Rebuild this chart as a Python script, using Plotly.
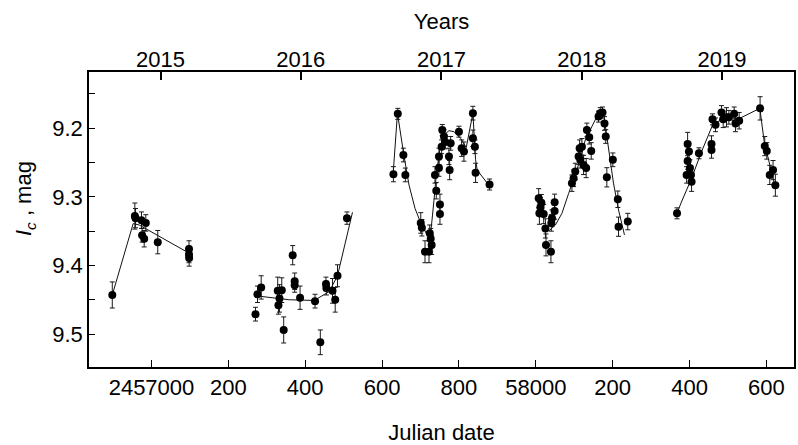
import plotly.graph_objects as go

# ---------------- data ----------------
jd_2015 = [2456898.0, 2456956.7, 2456958.5, 2456974.0, 2456985.2, 2456975.6, 2456981.0, 2457016.3, 2457097.6, 2457097.6, 2457098.0]
mag_2015 = [9.443, 9.328, 9.331, 9.334, 9.338, 9.356, 9.361, 9.366, 9.376, 9.384, 9.389]
err_2015 = [0.019, 0.019, 0.014, 0.012, 0.012, 0.010, 0.012, 0.017, 0.012, 0.012, 0.012]

jd_2016 = [2457270.6, 2457275.8, 2457285.4, 2457328.5, 2457333.0, 2457330.3, 2457339.0, 2457344.0, 2457367.4, 2457372.6,
           2457372.6, 2457386.6, 2457425.5, 2457439.3, 2457454.0, 2457455.0, 2457471.0, 2457478.0, 2457484.0, 2457508.6]
mag_2016 = [9.471, 9.442, 9.432, 9.437, 9.448, 9.458, 9.436, 9.494, 9.385, 9.423,
            9.429, 9.447, 9.452, 9.512, 9.427, 9.433, 9.437, 9.450, 9.415, 9.331]
err_2016 = [0.010, 0.012, 0.017, 0.020, 0.020, 0.013, 0.018, 0.019, 0.014, 0.012,
            0.010, 0.017, 0.010, 0.018, 0.010, 0.010, 0.018, 0.018, 0.016, 0.009]

jd_2017 = [2457629.5, 2457640.9, 2457655.4, 2457660.6, 2457700.6, 2457703.5, 2457711.7, 2457722.1, 2457726.5, 2457729.0,
           2457724.0, 2457737.6, 2457741.0, 2457748.0, 2457748.0, 2457750.6, 2457750.6, 2457755.0, 2457756.6, 2457761.0,
           2457764.0, 2457774.0, 2457775.8, 2457778.4, 2457800.0, 2457807.0, 2457813.0, 2457836.3, 2457836.3, 2457841.5,
           2457843.3, 2457879.6]
mag_2017 = [9.267, 9.179, 9.239, 9.268, 9.338, 9.345, 9.380, 9.380, 9.361, 9.370,
            9.353, 9.268, 9.291, 9.241, 9.258, 9.311, 9.325, 9.227, 9.2025, 9.212,
            9.220, 9.241, 9.261, 9.222, 9.205, 9.229, 9.234, 9.178, 9.2146, 9.227,
            9.265, 9.282]
err_2017 = [0.011, 0.008, 0.010, 0.010, 0.015, 0.012, 0.016, 0.016, 0.015, 0.014,
            0.012, 0.012, 0.012, 0.012, 0.012, 0.015, 0.015, 0.010, 0.008, 0.010,
            0.010, 0.012, 0.014, 0.010, 0.008, 0.012, 0.014, 0.010, 0.012, 0.010,
            0.014, 0.008]

jd_2018 = [2458007.5, 2458009.3, 2458012.0, 2458014.5, 2458020.5, 2458025.0, 2458026.5, 2458039.4, 2458040.4, 2458042.0,
           2458049.0, 2458049.0, 2458094.0, 2458098.3, 2458102.7, 2458111.3, 2458114.0, 2458120.0, 2458115.7, 2458124.3,
           2458131.0, 2458132.9, 2458139.0, 2458144.2, 2458163.2, 2458167.6, 2458173.6, 2458178.8, 2458182.0, 2458184.8,
           2458200.4, 2458213.4, 2458215.2, 2458239.3]
mag_2018 = [9.302, 9.324, 9.315, 9.3085, 9.325, 9.346, 9.370, 9.380, 9.338, 9.331,
            9.3205, 9.308, 9.280, 9.273, 9.263, 9.241, 9.229, 9.227, 9.246, 9.2535,
            9.258, 9.2025, 9.213, 9.233, 9.183, 9.178, 9.177, 9.193, 9.212, 9.2715,
            9.246, 9.3035, 9.3435, 9.336]
err_2018 = [0.014, 0.016, 0.014, 0.012, 0.014, 0.014, 0.016, 0.016, 0.012, 0.012,
            0.012, 0.012, 0.012, 0.012, 0.012, 0.012, 0.012, 0.012, 0.012, 0.014,
            0.014, 0.010, 0.010, 0.012, 0.008, 0.008, 0.008, 0.010, 0.010, 0.014,
            0.010, 0.012, 0.014, 0.012]

jd_2019 = [2458367.4, 2458392.4, 2458395.0, 2458395.0, 2458398.5, 2458401.1, 2458403.7, 2458405.3, 2458424.5, 2458457.2,
           2458457.2, 2458459.8, 2458467.6, 2458483.2, 2458487.6, 2458496.1, 2458502.3, 2458516.1, 2458519.5, 2458529.1,
           2458583.6, 2458595.7, 2458601.0, 2458608.7, 2458617.3, 2458623.3]
mag_2019 = [9.324, 9.268, 9.223, 9.2477, 9.234, 9.258, 9.268, 9.278, 9.2365, 9.223,
            9.2316, 9.187, 9.195, 9.177, 9.187, 9.184, 9.184, 9.179, 9.193, 9.189,
            9.171, 9.226, 9.233, 9.268, 9.261, 9.283]
err_2019 = [0.008, 0.012, 0.017, 0.012, 0.012, 0.012, 0.012, 0.014, 0.008, 0.012,
            0.012, 0.008, 0.010, 0.010, 0.012, 0.014, 0.010, 0.010, 0.012, 0.012,
            0.017, 0.014, 0.012, 0.014, 0.014, 0.016]

# fitted curves (one per season)
fit_jd_2015 = [2456898.0, 2456952.3, 2456968.0, 2457097.6]
fit_mag_2015 = [9.443, 9.339, 9.341, 9.382]
fit_jd_2016 = [2457275.8, 2457358.8, 2457423.7, 2457462.6, 2457484.0, 2457523.0]
fit_mag_2016 = [9.4445, 9.450, 9.451, 9.438, 9.415, 9.3225]
fit_jd_2017 = [2457629.5, 2457640.0, 2457657.2, 2457670.2, 2457685.8, 2457700.6, 2457717.7, 2457726.5, 2457735.0, 2457741.0,
               2457749.8, 2457761.0, 2457774.0, 2457787.0, 2457804.4, 2457819.0, 2457836.3, 2457843.3, 2457847.5, 2457860.5,
               2457877.8]
fit_mag_2017 = [9.261, 9.178, 9.241, 9.283, 9.317, 9.338, 9.356, 9.353, 9.305, 9.268,
                9.232, 9.210, 9.2035, 9.205, 9.2146, 9.228, 9.178, 9.246, 9.261, 9.2705,
                9.283]
fit_jd_2018 = [2458023.0, 2458035.3, 2458051.0, 2458068.0, 2458085.4, 2458098.3, 2458115.7, 2458128.7, 2458141.7, 2458156.2,
               2458167.6, 2458176.2, 2458182.2, 2458191.0, 2458202.1, 2458215.2, 2458230.7]
fit_mag_2018 = [9.341, 9.349, 9.341, 9.324, 9.295, 9.275, 9.246, 9.217, 9.2025, 9.188,
                9.173, 9.178, 9.2025, 9.241, 9.280, 9.319, 9.3555]
fit_jd_2019 = [2458367.4, 2458377.8, 2458405.3, 2458431.3, 2458461.7, 2458483.2, 2458531.0, 2458583.0, 2458594.2, 2458609.0,
               2458621.7]
fit_mag_2019 = [9.324, 9.309, 9.273, 9.234, 9.193, 9.188, 9.1854, 9.171, 9.2195, 9.2535,
                9.283]

# axes
x_tick_vals = [2457000, 2457200, 2457400, 2457600, 2457800, 2458000, 2458200, 2458400, 2458600]
x_tick_text = ["2457000", "200", "400", "600", "800", "58000", "200", "400", "600"]
year_jd = [2457023.5, 2457388.5, 2457754.5, 2458119.5, 2458484.5]
year_text = ["2015", "2016", "2017", "2018", "2019"]
y_tick_vals = [9.2, 9.3, 9.4, 9.5]
y_tick_text = ["9.2", "9.3", "9.4", "9.5"]
y_minor_vals = [9.15, 9.25, 9.35, 9.45]
x_range = [2456837.4, 2458671.8]
y_range = [9.548, 9.118]

# ---------------- figure ----------------
FONT = "Liberation Sans, Arial, sans-serif"
fig = go.Figure()

seasons = [(jd_2015, mag_2015, err_2015), (jd_2016, mag_2016, err_2016), (jd_2017, mag_2017, err_2017),
           (jd_2018, mag_2018, err_2018), (jd_2019, mag_2019, err_2019)]
fits = [(fit_jd_2015, fit_mag_2015), (fit_jd_2016, fit_mag_2016), (fit_jd_2017, fit_mag_2017),
        (fit_jd_2018, fit_mag_2018), (fit_jd_2019, fit_mag_2019)]

for fx, fy in fits:
    fig.add_trace(go.Scatter(x=fx, y=fy, mode="lines", line=dict(color="#111111", width=1),
                             showlegend=False, hoverinfo="skip"))

for sx, sy, se in seasons:
    fig.add_trace(go.Scatter(
        x=sx, y=sy, mode="markers",
        marker=dict(symbol="circle", size=8, color="black"),
        error_y=dict(type="data", array=se, visible=True, color="#1a1a1a", thickness=1, width=2.5),
        showlegend=False))

# invisible trace anchoring the top (years) axis
fig.add_trace(go.Scatter(x=year_jd, y=[None] * len(year_jd), xaxis="x2", mode="markers",
                         marker=dict(opacity=0), showlegend=False, hoverinfo="skip"))

axis_font = dict(family=FONT, size=22, color="black")

fig.update_layout(
    width=798, height=445,
    margin=dict(l=89, r=2, t=72, b=78),
    paper_bgcolor="white", plot_bgcolor="white",
    font=dict(family=FONT, size=22, color="black"),
    xaxis=dict(range=x_range, tickmode="array", tickvals=x_tick_vals, ticktext=x_tick_text,
               ticks="inside", ticklen=7, tickwidth=1.2, tickcolor="black",
               showline=True, linecolor="black", linewidth=1.5, mirror=True,
               showgrid=False, zeroline=False, tickfont=axis_font,
               title=dict(text="Julian date", font=axis_font, standoff=26)),
    xaxis2=dict(range=x_range, overlaying="x", side="top", tickmode="array",
                tickvals=year_jd, ticktext=year_text,
                ticks="inside", ticklen=8, tickwidth=1.5, tickcolor="black",
                showline=False, showgrid=False, zeroline=False, tickfont=axis_font,
                title=dict(text="Years", font=axis_font, standoff=10)),
    yaxis=dict(range=y_range, tickmode="array", tickvals=y_tick_vals, ticktext=y_tick_text,
               ticks="inside", ticklen=6, tickwidth=1.2, tickcolor="black",
               minor=dict(tickmode="array", tickvals=y_minor_vals, ticks="inside", ticklen=6,
                          tickwidth=1.2, tickcolor="black", showgrid=False),
               showline=True, linecolor="black", linewidth=1.5, mirror=True,
               showgrid=False, zeroline=False, tickfont=axis_font),
    annotations=[
        dict(text="<i>I<sub>c</sub></i> , mag", x=-0.0905, y=0.57, xref="paper", yref="paper",
             xanchor="center", yanchor="middle", textangle=-90, showarrow=False, font=axis_font),
    ],
)

fig.write_html("out.html")
